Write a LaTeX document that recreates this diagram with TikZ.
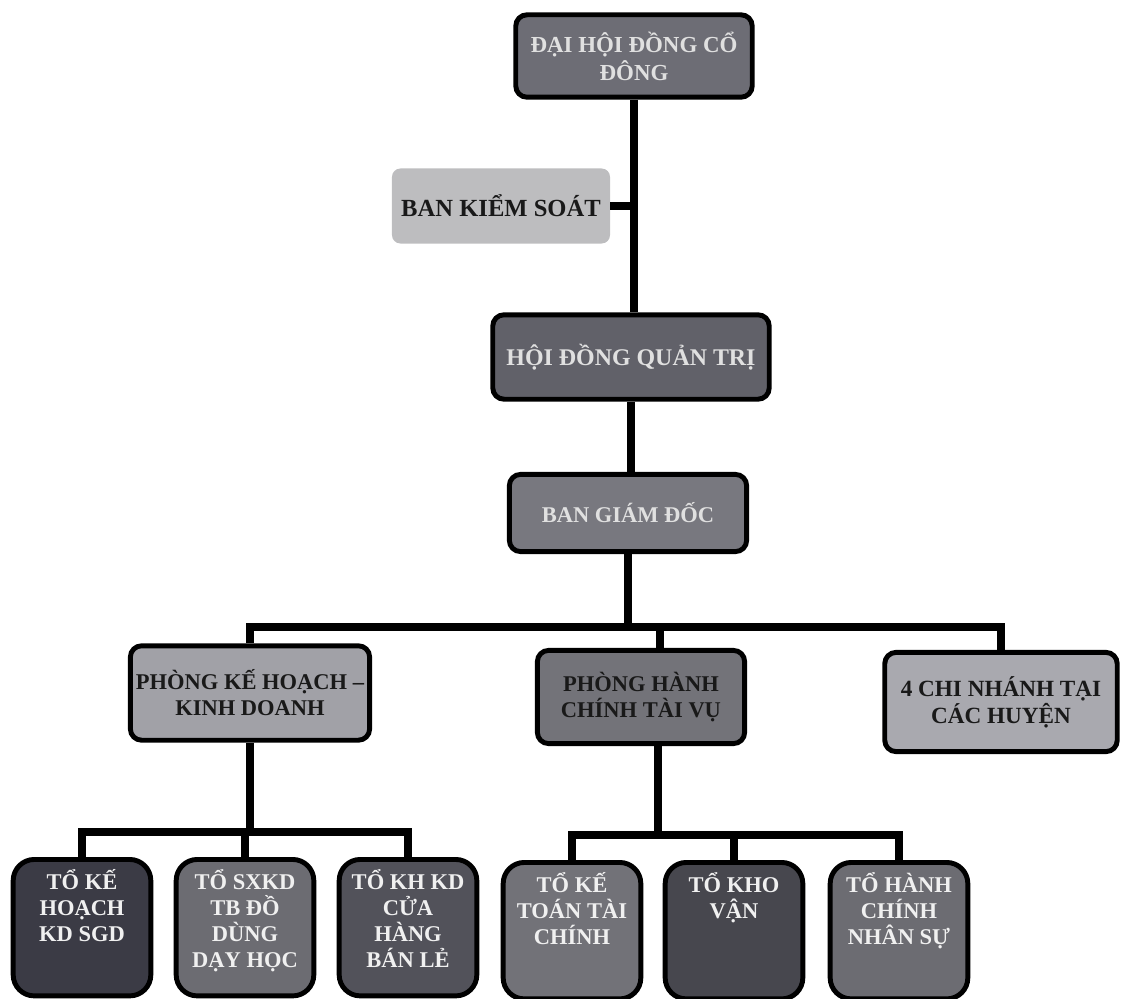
\documentclass[tikz,border=0pt]{standalone}
\usepackage{fontspec}
\setmainfont{Liberation Serif}
\usetikzlibrary{positioning}

\definecolor{shareholdgrey}{HTML}{6D6D75}
\definecolor{auditgrey}{HTML}{BDBDBF}
\definecolor{boardgrey}{HTML}{616169}
\definecolor{directgrey}{HTML}{78787F}
\definecolor{planlight}{HTML}{A1A1A7}
\definecolor{admindark}{HTML}{737379}
\definecolor{branchlight}{HTML}{A9A9AF}
\definecolor{teamblack}{HTML}{3B3B45}
\definecolor{teammid}{HTML}{6C6C72}
\definecolor{teamdeep}{HTML}{52525A}
\definecolor{teamsoft}{HTML}{727278}
\definecolor{teamnight}{HTML}{47474E}

\newcommand{\teamtext}[1]{\parbox[c][2.9cm][t]{3.3cm}{\centering #1}}

\begin{document}
\begin{tikzpicture}[x=0.025cm, y=-0.025cm,
		box/.style={draw=black, line width=3.5pt, rounded corners=8pt, align=center,
			font=\fontsize{16}{18.5}\selectfont\bfseries, inner sep=2pt},
		lightbox/.style={box, text=black!90},
		darkbox/.style={box, text=white!88!black},
		team/.style={darkbox, rounded corners=15pt, minimum width=3.43cm, minimum height=3.41cm, anchor=north, text=white!94!black},
		link/.style={line width=5.5pt},
	]
		\useasboundingbox (0,0) rectangle (1121,999);

		% upper levels
		\node[darkbox, fill=shareholdgrey, minimum width=5.91cm, minimum height=2.06cm, font=\fontsize{16.3}{20}\selectfont\bfseries] (dhcd) at (634,56) {ĐẠI HỘI ĐỒNG CỔ\\ĐÔNG};
		\node[lightbox, draw=none, outer sep=0pt, fill=auditgrey, rounded corners=6pt, minimum width=5.45cm, minimum height=1.875cm, font=\fontsize{17.5}{20}\selectfont\bfseries] (bks) at (501,206) {BAN KIỂM SOÁT};
		\node[darkbox, fill=boardgrey, minimum width=6.91cm, minimum height=2.11cm, font=\fontsize{17}{20}\selectfont\bfseries] (hdqt) at (631,357) {HỘI ĐỒNG QUẢN TRỊ};
		\node[darkbox, fill=directgrey, minimum width=5.93cm, minimum height=1.93cm] (bgd) at (628,513) {BAN GIÁM ĐỐC};

		% departments
		\node[lightbox, fill=planlight, minimum width=5.98cm, minimum height=2.36cm] (pkh) at (250,693) {PHÒNG KẾ HOẠCH –\\KINH DOANH};
		\node[lightbox, fill=admindark, minimum width=5.18cm, minimum height=2.33cm] (phc) at (641,697) {PHÒNG HÀNH\\CHÍNH TÀI VỤ};
		\node[lightbox, fill=branchlight, minimum width=5.81cm, minimum height=2.48cm, font=\fontsize{16.5}{19}\selectfont\bfseries] (cn) at (1001,702) {4 CHI NHÁNH TẠI\\CÁC HUYỆN};

		% teams
		\node[team, fill=teamblack] (tkh) at (82,857) {\teamtext{TỔ KẾ\\HOẠCH\\KD SGD}};
		\node[team, fill=teammid] (tsx) at (245,857) {\teamtext{TỔ SXKD\\TB ĐỒ\\DÙNG\\DẠY HỌC}};
		\node[team, fill=teamdeep] (tkd) at (408,857) {\teamtext{TỔ KH KD\\CỬA\\HÀNG\\BÁN LẺ}};
		\node[team, fill=teamsoft] (tkt) at (572,860) {\teamtext{TỔ KẾ\\TOÁN TÀI\\CHÍNH}};
		\node[team, fill=teamnight] (tkv) at (734,860) {\teamtext{TỔ KHO\\VẬN}};
		\node[team, fill=teammid] (thc) at (899,860) {\teamtext{TỔ HÀNH\\CHÍNH\\NHÂN SỰ}};

		\coordinate (bus1) at (630,627);
		\coordinate (phcin) at (660,650);
		\coordinate (bus2) at (248,832);
		\coordinate (bus3) at (658,835);

		% connectors
		\draw[link] (dhcd.south) -- (dhcd.south |- hdqt.north);
		\draw[link] (bks.east) -- (bks.east -| dhcd.south);
		\draw[link] (hdqt.south) -- (hdqt.south |- bgd.north);
		\draw[link] (bgd.south) -- (bgd.south |- bus1);
		\draw[link] (pkh.north) |- (bus1) -| (cn.north);
		\draw[link] (phcin) -- (phcin |- bus1);

		\draw[link] (pkh.south) -- (pkh.south |- bus2);
		\draw[link] (tkh.north) |- (bus2) -| (tkd.north);
		\draw[link] (tsx.north) -- (tsx.north |- bus2);

		\draw[link] (bus3 |- phc.south) -- (bus3);
		\draw[link] (tkt.north) |- (bus3) -| (thc.north);
		\draw[link] (tkv.north) -- (tkv.north |- bus3);
	\end{tikzpicture}
\end{document}
